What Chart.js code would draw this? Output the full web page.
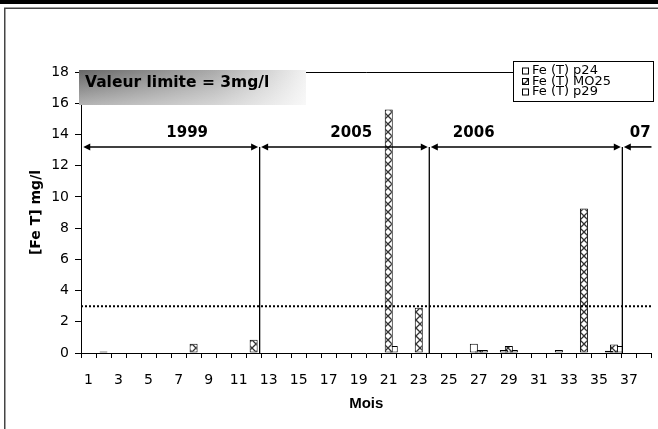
<!DOCTYPE html>
<html>
<head>
<meta charset="utf-8">
<script src="https://cdn.jsdelivr.net/npm/chart.js"></script>
<style>
  html, body { margin: 0; padding: 0; background: #fff; }
  canvas { display: block; }
</style>
</head>
<body>
<canvas id="c" width="658" height="429"></canvas>
<script>
// Months of sampling (x categories)
const months = [1, 2, 3, 4, 5, 6, 7, 8, 9, 10, 11, 12, 13, 14, 15, 16, 17, 18, 19,
                20, 21, 22, 23, 24, 25, 26, 27, 28, 29, 30, 31, 32, 33, 34, 35, 36, 37, 38];
// Month numbers that carry a tick label
const shownMonths = [1, 3, 5, 7, 9, 11, 13, 15, 17, 19, 21, 23, 25, 27, 29, 31, 33, 35, 37];
// Y axis ticks (mg/l)
const yTicks = [0, 2, 4, 6, 8, 10, 12, 14, 16, 18];

// Total iron, mg/l, per well (null = no measurement)
const feP24 = [null, null, null, null, null, null, null, null, null, null,
               null, null, null, null, null, null, null, null, null, null,
               null, null, null, null, null, null, 0.6, null, 0.2, null,
               null, null, null, null, null, 0.15, null, null];
const feMO25 = [null, 0.1, null, null, null, null, null, 0.6, null, null,
                null, 0.85, null, null, null, null, null, null, null, null,
                15.6, null, 2.9, null, null, null, 0.2, null, 0.45, null,
                null, null, null, 9.25, null, 0.55, null, null];
const feP29 = [null, null, null, null, null, null, null, null, null, null,
               null, null, null, null, null, null, null, null, null, null,
               0.45, null, 0.05, null, null, null, 0.2, null, 0.2, null,
               null, 0.2, null, null, null, 0.45, null, null];

const seriesNames = ['Fe (T) p24', 'Fe (T) MO25', 'Fe (T) p29'];
const limitValue = 3;                 // mg/l
const limitText = 'Valeur limite = 3mg/l';
const periodNames = ['1999', '2005', '2006', '07'];

// Placement of the period annotations, in category-index / value units
const periodDividers = [11.4, 22.7, 35.56];
const periodLabelAt = [6.57, 17.5, 25.66, 36.75];
const arrowStart = -0.35;
const arrowLevel = 13.2;
const periodLabelLevel = 14.1;

const canvas = document.getElementById('c');
const ctx = canvas.getContext('2d');

// Cross-hatch fill used for the MO25 well
function makeHatch() {
  const c = document.createElement('canvas');
  c.width = 8; c.height = 8;
  const g = c.getContext('2d');
  g.fillStyle = '#fff';
  g.fillRect(0, 0, 8, 8);
  g.strokeStyle = '#333';
  g.lineWidth = 1.3;
  g.beginPath();
  g.moveTo(0, 0); g.lineTo(8, 8);
  g.moveTo(8, 0); g.lineTo(0, 8);
  g.stroke();
  return ctx.createPattern(c, 'repeat');
}
const hatch = makeHatch();
const fills = ['#ffffff', hatch, '#ffffff'];

function arrowHead(g, tipX, yy, dir) {
  const len = 7, half = 3.5;
  g.beginPath();
  g.moveTo(tipX, yy);
  g.lineTo(tipX - dir * len, yy - half);
  g.lineTo(tipX - dir * len, yy + half);
  g.closePath();
  g.fill();
}

const decor = {
  id: 'decor',
  beforeDraw(chart) {
    const { ctx: g, width, height } = chart;
    g.save();
    g.fillStyle = '#fff';
    g.fillRect(0, 0, width, height);
    g.fillStyle = '#000';
    g.fillRect(0, 0, width, 4);
    g.strokeStyle = '#444';
    g.lineWidth = 1.5;
    g.beginPath();
    g.moveTo(4.75, height);
    g.lineTo(4.75, 8.25);
    g.lineTo(width, 8.25);
    g.stroke();
    g.restore();
  },
  afterDatasetsDraw(chart) {
    const { ctx: g, chartArea: a, scales: { x, y } } = chart;
    g.save();
    // top frame line of the plot
    g.strokeStyle = '#000';
    g.lineWidth = 1;
    const yTop = Math.round(y.getPixelForValue(18)) + 0.5;
    g.beginPath(); g.moveTo(a.left, yTop); g.lineTo(a.right, yTop); g.stroke();

    // limit line
    const yl = y.getPixelForValue(limitValue);
    g.setLineDash([2, 2]);
    g.lineWidth = 2;
    g.beginPath(); g.moveTo(a.left, yl); g.lineTo(a.right, yl); g.stroke();
    g.setLineDash([]);

    // period dividers and arrows
    const ya = y.getPixelForValue(arrowLevel);
    const yb = y.getPixelForValue(0);
    g.lineWidth = 1.3;
    periodDividers.forEach(d => {
      const px = x.getPixelForValue(d);
      g.beginPath(); g.moveTo(px, ya); g.lineTo(px, yb); g.stroke();
    });
    const stops = [x.getPixelForValue(arrowStart)].concat(periodDividers.map(d => x.getPixelForValue(d)));
    g.fillStyle = '#000';
    g.lineWidth = 1.6;
    for (let i = 0; i < stops.length; i++) {
      const x0 = i === 0 ? stops[0] : stops[i] + 1.5;
      const last = i === stops.length - 1;
      const x1 = last ? a.right : stops[i + 1] - 1.5;
      g.beginPath(); g.moveTo(x0 + 3, ya); g.lineTo(last ? x1 : x1 - 3, ya); g.stroke();
      arrowHead(g, x0, ya, -1);
      if (!last) arrowHead(g, x1, ya, 1);
    }
    g.font = 'bold 15px "DejaVu Sans"';
    g.textAlign = 'center';
    g.textBaseline = 'middle';
    const yt = y.getPixelForValue(periodLabelLevel);
    periodNames.forEach((t, i) => g.fillText(t, x.getPixelForValue(periodLabelAt[i]), yt));
    g.restore();
  },
  afterDraw(chart) {
    const { ctx: g, chartArea: a } = chart;
    g.save();
    // limit note box
    const bx = a.left - 2, by = a.top - 2, bw = 227, bh = 35;
    const hg = g.createLinearGradient(bx, 0, bx + bw, 0);
    hg.addColorStop(0, '#666666');
    hg.addColorStop(0.6, '#ababab');
    hg.addColorStop(1, '#f2f2f2');
    g.fillStyle = hg;
    g.fillRect(bx, by, bw, bh);
    const vg = g.createLinearGradient(0, by, 0, by + bh);
    vg.addColorStop(0, 'rgba(255,255,255,0)');
    vg.addColorStop(1, 'rgba(255,255,255,0.5)');
    g.fillStyle = vg;
    g.fillRect(bx, by, bw, bh);
    g.fillStyle = '#000';
    g.font = 'bold 15.5px "DejaVu Sans"';
    g.textAlign = 'left';
    g.textBaseline = 'alphabetic';
    g.fillText(limitText, bx + 6, by + 17);

    // legend
    const lx = Math.round(a.right) - 138, ly = a.top - 11, lw = 141, lh = 41;
    g.fillStyle = '#fff';
    g.fillRect(lx, ly, lw, lh);
    g.strokeStyle = '#000';
    g.lineWidth = 1;
    g.strokeRect(lx + 0.5, ly + 0.5, lw - 1, lh - 1);
    g.font = '13px "DejaVu Sans"';
    g.textBaseline = 'middle';
    seriesNames.forEach((name, i) => {
      const cy = ly + 10 + i * 10.5;
      g.fillStyle = fills[i];
      g.fillRect(lx + 9, cy - 3.5, 7, 7);
      g.strokeStyle = '#000';
      g.strokeRect(lx + 9.5, cy - 3, 6, 6);
      g.fillStyle = '#000';
      g.fillText(name, lx + 19, cy);
    });
    g.restore();
  }
};

const tickFont = { family: 'DejaVu Sans', size: 14 };

new Chart(ctx, {
  type: 'bar',
  data: {
    labels: months.map(String),
    datasets: [feP24, feMO25, feP29].map((d, i) => ({
      label: seriesNames[i],
      data: d,
      backgroundColor: fills[i],
      borderColor: '#000',
      borderWidth: 1,
      borderSkipped: false
    }))
  },
  options: {
    responsive: false,
    animation: false,
    devicePixelRatio: 1,
    layout: { padding: { left: 0, top: 72, right: 3, bottom: 0 } },
    datasets: { bar: { categoryPercentage: 1, barPercentage: 1.6 } },
    plugins: { legend: { display: false }, tooltip: { enabled: false } },
    scales: {
      x: {
        grid: { drawOnChartArea: false, tickLength: 5, color: '#000', offset: true },
        border: { color: '#000', width: 1 },
        ticks: {
          autoSkip: false, maxRotation: 0, minRotation: 0, padding: 14,
          font: tickFont, color: '#000',
          callback: (v, i) => shownMonths.includes(months[i]) ? String(months[i]) : ''
        },
        title: {
          display: true, text: 'Mois', color: '#000',
          font: { family: 'Liberation Sans', size: 15, weight: 'bold' },
          padding: { top: 0, bottom: 16.5 }
        },
        afterFit(s) { s.height = 76; }
      },
      y: {
        min: yTicks[0], max: yTicks[yTicks.length - 1],
        afterBuildTicks(s) { s.ticks = yTicks.map(v => ({ value: v })); },
        grid: { drawOnChartArea: false, tickLength: 6, color: '#000' },
        border: { color: '#000', width: 1 },
        ticks: { padding: 6, font: tickFont, color: '#000' },
        title: {
          display: true, text: '[Fe T] mg/l', color: '#000',
          font: { family: 'DejaVu Sans', size: 14, weight: 'bold' },
          padding: { top: 28, bottom: 0 }
        },
        afterFit(s) { s.width = 81; }
      }
    }
  },
  plugins: [decor]
});
</script>
</body>
</html>
